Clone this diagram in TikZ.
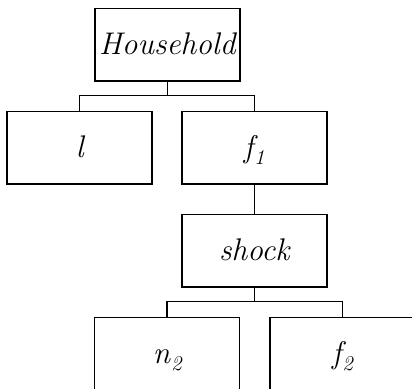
\documentclass[tikz,border=0pt]{standalone}
\usepackage{fontspec}
\newcommand{\lbl}[1]{\fontsize{31.3}{37}\selectfont\itshape #1}
\newcommand{\subidx}[1]{\kern1pt\raisebox{-7pt}{\fontsize{21}{21}\selectfont #1}}
\begin{document}
\begin{tikzpicture}[x=1pt,y=-1pt,
  box/.style={draw, line width=1.5pt, minimum width=145pt, minimum height=72.5pt,
    inner sep=0pt, text height=20pt, text depth=0pt},
  link/.style={line width=1.5pt}]
\useasboundingbox (0,0) rectangle (412,388);
% tree of boxes
\node[box] (hh) at (167.3,44.5) {\lbl{Household}};
\node[box] (l) at (79.7,147.7) {\lbl{l}};
\node[box] (f1) at (254.3,147.7) {\lbl{f\subidx{1}}};
\node[box] (shock) at (254.3,250.8) {\lbl{shock}};
\node[box] (n2) at (167.2,353.8) {\lbl{n\subidx{2}}};
\node[box] (f2) at (342.5,353.8) {\lbl{f\subidx{2}}};
% connectors
\coordinate (bus1) at ([yshift=15.3pt]l.north);
\coordinate (bus2) at ([yshift=15.3pt]n2.north);
\draw[link] (hh.south) -- (hh.south |- bus1);
\draw[link] (l.north) -- (bus1) -| (f1.north);
\draw[link] (f1.south) -- (shock.north);
\draw[link] (shock.south) -- (shock.south |- bus2);
\draw[link] (n2.north) -- (bus2) -| (f2.north);
\end{tikzpicture}
\end{document}
